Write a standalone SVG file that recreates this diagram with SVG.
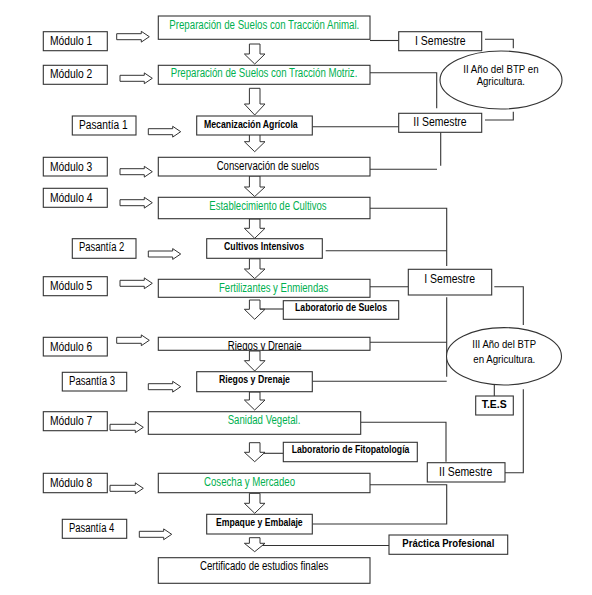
<svg xmlns="http://www.w3.org/2000/svg" width="592" height="595" viewBox="0 0 592 595">
<style>
text{font-family:"Liberation Sans",Arial,sans-serif;fill:#000}
.n{font-size:12px}
.g{font-size:12px;fill:#00b050}
.b{font-size:10px;font-weight:bold}
.e{font-size:11px}
.bx{fill:#fff;stroke:#333;stroke-width:1.1}
.ln{fill:none;stroke:#333;stroke-width:1.1}
.ar{fill:#fff;stroke:#333;stroke-width:1}
</style>
<defs>
<path id="da" d="M-5.3,0 H5.3 V1 H10.3 L0,2 L-10.3,1 H-5.3 Z"/>
<clipPath id="rc"><rect x="158.3" y="337.3" width="211.7" height="13"/></clipPath>
</defs>
<rect width="592" height="595" fill="#fff"/>
<g id="connectors">
<path class="ln" d="M370,40.5 H398.7"/>
<path class="ln" d="M485,39.3 H513.3 V48.3"/>
<path class="ln" d="M370,72.7 H436.7 V108.3"/>
<path class="ln" d="M485,120 H513.3 V111.7"/>
<path class="ln" d="M312.3,126.7 H398.7"/>
<path class="ln" d="M440.7,132.3 V165.7"/>
<path class="ln" d="M370,169.3 H437"/>
<path class="ln" d="M370,208.3 H446.7 V266"/>
<path class="ln" d="M325.7,250.7 H446.7"/>
<path class="ln" d="M370,286.7 H408.3"/>
<path class="ln" d="M494.3,286.7 H523.3 V325"/>
<path class="ln" d="M446.7,297.3 V376.7"/>
<path class="ln" d="M370,342.3 H446.7"/>
<path class="ln" d="M312.3,381.3 H446.7"/>
<path class="ln" d="M494.3,385 V396"/>
<path class="ln" d="M505,472.7 H523.3 V389.3"/>
<path class="ln" d="M360.7,422.3 H446 V461.7"/>
<path class="ln" d="M263.3,453.3 H283.3"/>
<path class="ln" d="M260,309 H283.3"/>
<path class="ln" d="M370,484.7 H446.7 V524 H312.3"/>
<path class="ln" d="M260,545.5 H389"/>
<!-- horizontal block arrows -->
<path class="ar" d="M116.7,33.7 H141.3 V31.3 L149.3,36.7 L141.3,42.1 V39.7 H116.7 Z"/>
<path class="ar" d="M120,75.3 H144.3 V72.9 L152.3,78.3 L144.3,83.7 V81.3 H120 Z"/>
<path class="ar" d="M148.3,128.7 H172.7 V126.3 L180.7,131.7 L172.7,137.1 V134.7 H148.3 Z"/>
<path class="ar" d="M120,168.7 H144.3 V166.3 L152.3,171.7 L144.3,177.1 V174.7 H120 Z"/>
<path class="ar" d="M120,199.7 H144.3 V197.3 L152.3,202.7 L144.3,208.1 V205.7 H120 Z"/>
<path class="ar" d="M148.3,251 H172.7 V248.6 L180.7,254 L172.7,259.4 V257 H148.3 Z"/>
<path class="ar" d="M120,280.3 H144.3 V277.9 L152.3,283.3 L144.3,288.7 V286.3 H120 Z"/>
<path class="ar" d="M116.7,337.3 H141.3 V334.9 L149.3,340.3 L141.3,345.7 V343.3 H116.7 Z"/>
<path class="ar" d="M148.3,383.7 H172.7 V381.3 L180.7,386.7 L172.7,392.1 V389.7 H148.3 Z"/>
<path class="ar" d="M110,424.3 H135.3 V421.9 L143.3,427.3 L135.3,432.7 V430.3 H110 Z"/>
<path class="ar" d="M110,485.3 H135.3 V482.9 L143.3,488.3 L135.3,493.7 V491.3 H110 Z"/>
<path class="ar" d="M139.3,531.3 H163.7 V528.9 L171.7,534.3 L163.7,539.7 V537.3 H139.3 Z"/>
<!-- down block arrows -->
<path class="ar" d="M249.4,44 H260 V54 H265 L254.7,64 L244.4,54 H249.4 Z"/>
<path class="ar" d="M249.4,88.3 H260 V104 H265 L254.7,115 L244.4,104 H249.4 Z"/>
<path class="ar" d="M249.4,132.7 H260 V141.7 H265 L254.7,151.7 L244.4,141.7 H249.4 Z"/>
<path class="ar" d="M249.4,176 H260 V187 H265 L254.7,196.5 L244.4,187 H249.4 Z"/>
<path class="ar" d="M249.4,219 H260 V228.3 H265 L254.7,238.3 L244.4,228.3 H249.4 Z"/>
<path class="ar" d="M249.4,258.8 H260 V269 H265 L254.7,278.6 L244.4,269 H249.4 Z"/>
<path class="ar" d="M249.4,300 H260 V309.3 H265 L254.7,319.3 L244.4,309.3 H249.4 Z"/>
<path class="ar" d="M249.4,351 H260 V360.7 H265 L254.7,371 L244.4,360.7 H249.4 Z"/>
<path class="ar" d="M249.4,392 H260 V400 H265 L254.7,410 L244.4,400 H249.4 Z"/>
<path class="ar" d="M249.4,442.7 H260 V452.3 H265 L254.7,461.7 L244.4,452.3 H249.4 Z"/>
<path class="ar" d="M249.4,493.3 H260 V503.3 H265 L254.7,513.3 L244.4,503.3 H249.4 Z"/>
<path class="ar" d="M249.4,537.7 H260 V543.3 H265 L254.7,551.7 L244.4,543.3 H249.4 Z"/>
</g>
<g id="modulo1"><rect class="bx" x="43.3" y="31.7" width="64" height="19"/><text class="n" x="50" y="45" textLength="42.3" lengthAdjust="spacingAndGlyphs">Módulo 1</text></g>
<g id="modulo2"><rect class="bx" x="43.3" y="65.3" width="64" height="19"/><text class="n" x="50" y="78" textLength="42.3" lengthAdjust="spacingAndGlyphs">Módulo 2</text></g>
<g id="pasantia1"><rect class="bx" x="72.3" y="116" width="63.7" height="19"/><text class="n" x="79" y="129" textLength="48.7" lengthAdjust="spacingAndGlyphs">Pasantía 1</text></g>
<g id="modulo3"><rect class="bx" x="43.3" y="157.3" width="64" height="18.7"/><text class="n" x="50" y="170.5" textLength="42.3" lengthAdjust="spacingAndGlyphs">Módulo 3</text></g>
<g id="modulo4"><rect class="bx" x="43.3" y="188.3" width="64" height="19"/><text class="n" x="50" y="201.5" textLength="42.5" lengthAdjust="spacingAndGlyphs">Módulo 4</text></g>
<g id="pasantia2"><rect class="bx" x="72.3" y="238.7" width="63.7" height="19.6"/><text class="n" x="79" y="251" textLength="45.3" lengthAdjust="spacingAndGlyphs">Pasantía 2</text></g>
<g id="modulo5"><rect class="bx" x="43.3" y="276.7" width="64" height="19"/><text class="n" x="50" y="290" textLength="42.3" lengthAdjust="spacingAndGlyphs">Módulo 5</text></g>
<g id="modulo6"><rect class="bx" x="43.3" y="337.3" width="64" height="18.7"/><text class="n" x="50" y="350.5" textLength="42.3" lengthAdjust="spacingAndGlyphs">Módulo 6</text></g>
<g id="pasantia3"><rect class="bx" x="62.3" y="372.3" width="64.4" height="18.7"/><text class="n" x="69" y="385" textLength="46" lengthAdjust="spacingAndGlyphs">Pasantía 3</text></g>
<g id="modulo7"><rect class="bx" x="43.3" y="411.7" width="64" height="19"/><text class="n" x="50" y="425" textLength="42.3" lengthAdjust="spacingAndGlyphs">Módulo 7</text></g>
<g id="modulo8"><rect class="bx" x="43.3" y="473.3" width="64" height="19.4"/><text class="n" x="50" y="486.5" textLength="42.3" lengthAdjust="spacingAndGlyphs">Módulo 8</text></g>
<g id="pasantia4"><rect class="bx" x="62.3" y="519.3" width="64.4" height="19"/><text class="n" x="69" y="531.7" textLength="45.3" lengthAdjust="spacingAndGlyphs">Pasantía 4</text></g>

<g id="prep-animal"><rect class="bx" x="158.3" y="16" width="211.7" height="23.3"/><text class="g" x="169.3" y="29" textLength="190" lengthAdjust="spacingAndGlyphs">Preparación de Suelos con Tracción Animal.</text></g>
<g id="prep-motriz"><rect class="bx" x="158.3" y="65.3" width="211.7" height="19"/><text class="g" x="170.7" y="76.5" textLength="186.7" lengthAdjust="spacingAndGlyphs">Preparación de Suelos con Tracción Motriz.</text></g>
<g id="mecanizacion"><rect class="bx" x="196.7" y="116" width="115.6" height="19"/><text class="b" x="204" y="127.5" textLength="93.7" lengthAdjust="spacingAndGlyphs">Mecanización Agrícola</text></g>
<g id="conservacion"><rect class="bx" x="158.3" y="157.3" width="211.7" height="18.7"/><text class="n" x="216.7" y="170" textLength="102.3" lengthAdjust="spacingAndGlyphs">Conservación de suelos</text></g>
<g id="establecimiento"><rect class="bx" x="158.3" y="197.3" width="211.7" height="21.4"/><text class="g" x="209.3" y="210" textLength="117.3" lengthAdjust="spacingAndGlyphs">Establecimiento de Cultivos</text></g>
<g id="cultivos"><rect class="bx" x="206.7" y="238.7" width="115.6" height="19.6"/><text class="b" x="224" y="250" textLength="80" lengthAdjust="spacingAndGlyphs">Cultivos Intensivos</text></g>
<g id="fertilizantes"><rect class="bx" x="158.3" y="279.3" width="211.7" height="18"/><text class="g" x="219" y="292" textLength="109.3" lengthAdjust="spacingAndGlyphs">Fertilizantes y Enmiendas</text></g>
<g id="lab-suelos"><rect class="bx" x="283.3" y="300.7" width="115.4" height="18.6"/><text class="b" x="295" y="310.7" textLength="92" lengthAdjust="spacingAndGlyphs">Laboratorio de Suelos</text></g>
<g id="riegos"><rect class="bx" x="158.3" y="337.3" width="211.7" height="13"/><text class="n" x="227.7" y="350" textLength="74" lengthAdjust="spacingAndGlyphs" clip-path="url(#rc)">Riegos y Drenaje</text></g>
<g id="riegos-bold"><rect class="bx" x="196.7" y="371.7" width="115.6" height="20"/><text class="b" x="219" y="383.3" textLength="71" lengthAdjust="spacingAndGlyphs">Riegos y Drenaje</text></g>
<g id="sanidad"><rect class="bx" x="148.3" y="411.7" width="212.4" height="22.6"/><text class="g" x="227.7" y="424" textLength="72.7" lengthAdjust="spacingAndGlyphs">Sanidad Vegetal.</text></g>
<g id="lab-fito"><rect class="bx" x="283.3" y="442.3" width="134" height="19.4"/><text class="b" x="291.7" y="453.3" textLength="117.7" lengthAdjust="spacingAndGlyphs">Laboratorio de Fitopatología</text></g>
<g id="cosecha"><rect class="bx" x="158.3" y="473.3" width="211.7" height="19.4"/><text class="g" x="204" y="485.7" textLength="91" lengthAdjust="spacingAndGlyphs">Cosecha y Mercadeo</text></g>
<g id="empaque"><rect class="bx" x="206.7" y="514.3" width="105.6" height="19.7"/><text class="b" x="216" y="525.5" textLength="86.7" lengthAdjust="spacingAndGlyphs">Empaque y Embalaje</text></g>
<g id="certificado"><rect class="bx" x="158.3" y="557.7" width="211.7" height="25.6"/><text class="n" x="200" y="570" textLength="128.3" lengthAdjust="spacingAndGlyphs">Certificado de estudios finales</text></g>
<g id="practica"><rect class="bx" x="389" y="535" width="118.7" height="19.3"/><text class="b" x="402.3" y="546.7" textLength="92" lengthAdjust="spacingAndGlyphs">Práctica Profesional</text></g>

<g id="i-semestre-1"><rect class="bx" x="398.7" y="31.7" width="83" height="19"/><text class="n" x="415" y="45" textLength="50.7" lengthAdjust="spacingAndGlyphs">I Semestre</text></g>
<g id="ii-semestre-1"><rect class="bx" x="398.7" y="113.3" width="83" height="19"/><text class="n" x="413.3" y="126" textLength="53.3" lengthAdjust="spacingAndGlyphs">II Semestre</text></g>
<g id="ii-ano"><ellipse class="bx" cx="501" cy="80" rx="61" ry="29"/><text class="e" x="463.3" y="72.5" textLength="75.3" lengthAdjust="spacingAndGlyphs">II Año del BTP en</text><text class="e" x="476.7" y="85" textLength="48.3" lengthAdjust="spacingAndGlyphs">Agricultura.</text></g>
<g id="i-semestre-2"><rect class="bx" x="408.3" y="269.3" width="83.4" height="25.7"/><text class="n" x="424.3" y="283" textLength="50.7" lengthAdjust="spacingAndGlyphs">I Semestre</text></g>
<g id="iii-ano"><ellipse class="bx" cx="504" cy="356.3" rx="57.5" ry="28.7"/><text class="e" x="472.3" y="348.3" textLength="63.7" lengthAdjust="spacingAndGlyphs">III Año del BTP</text><text class="e" x="473.3" y="362.5" textLength="62" lengthAdjust="spacingAndGlyphs">en Agricultura.</text></g>
<g id="tes"><rect class="bx" x="475.7" y="396" width="37.6" height="19"/><text class="b" x="481.7" y="408.3" textLength="25" lengthAdjust="spacingAndGlyphs">T.E.S</text></g>
<g id="ii-semestre-2"><rect class="bx" x="427.3" y="462.7" width="77.7" height="19.3"/><text class="n" x="439" y="476" textLength="53.3" lengthAdjust="spacingAndGlyphs">II Semestre</text></g>
</svg>
